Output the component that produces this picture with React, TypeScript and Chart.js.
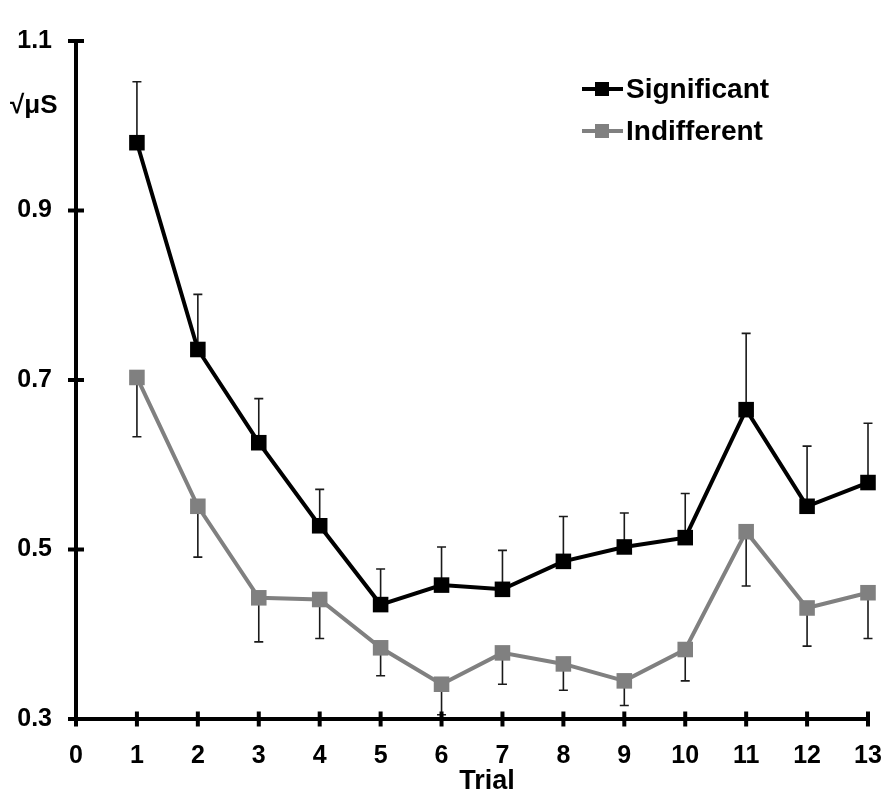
import { useEffect, useRef } from 'react'
import { Chart, registerables } from 'chart.js'

Chart.register(...registerables)

const trials = [1, 2, 3, 4, 5, 6, 7, 8, 9, 10, 11, 12, 13]
const significant = [0.98, 0.736, 0.626, 0.528, 0.435, 0.458, 0.453, 0.486, 0.503, 0.514, 0.665, 0.551, 0.579]
const significantErrTop = [1.052, 0.801, 0.678, 0.571, 0.477, 0.503, 0.499, 0.539, 0.543, 0.566, 0.755, 0.622, 0.649]
const indifferent = [0.703, 0.551, 0.443, 0.441, 0.384, 0.341, 0.378, 0.365, 0.345, 0.382, 0.521, 0.431, 0.449]
const indifferentErrBottom = [0.633, 0.491, 0.391, 0.395, 0.351, 0.305, 0.341, 0.334, 0.316, 0.345, 0.457, 0.386, 0.395]
const yTicks = [0.3, 0.5, 0.7, 0.9, 1.1]
const xTicks = [0, 1, 2, 3, 4, 5, 6, 7, 8, 9, 10, 11, 12, 13]

const FONT = '"Liberation Sans", Arial, sans-serif'
const GREY = '#808080'

const errorBars = {
  id: 'errorBars',
  beforeDatasetsDraw(chart: any) {
    const { ctx, scales } = chart
    const x = scales.x
    const y = scales.y
    const sets = [
      { vals: significant, ends: significantErrTop },
      { vals: indifferent, ends: indifferentErrBottom },
    ]
    ctx.save()
    ctx.strokeStyle = '#1a1a1a'
    ctx.lineWidth = 1.6
    sets.forEach(s => {
      trials.forEach((t, i) => {
        const px = x.getPixelForValue(t)
        const p0 = y.getPixelForValue(s.vals[i])
        const p1 = y.getPixelForValue(s.ends[i])
        ctx.beginPath()
        ctx.moveTo(px, p0)
        ctx.lineTo(px, p1)
        ctx.moveTo(px - 4.5, p1)
        ctx.lineTo(px + 4.5, p1)
        ctx.stroke()
      })
    })
    ctx.restore()
  },
}

const axisDecor = {
  id: 'axisDecor',
  afterDraw(chart: any) {
    const { ctx, scales, chartArea } = chart
    const x = scales.x
    const y = scales.y
    ctx.save()
    ctx.strokeStyle = '#000'
    ctx.lineWidth = 4
    // crossing tick marks
    yTicks.forEach(v => {
      const py = y.getPixelForValue(v)
      ctx.beginPath()
      ctx.moveTo(chartArea.left - 8, py)
      ctx.lineTo(chartArea.left + 8, py)
      ctx.stroke()
    })
    xTicks.forEach(v => {
      const px = x.getPixelForValue(v)
      ctx.beginPath()
      ctx.moveTo(px, chartArea.bottom - 7.5)
      ctx.lineTo(px, chartArea.bottom + 7.5)
      ctx.stroke()
    })

    ctx.fillStyle = '#000'
    ctx.textBaseline = 'middle'

    // y unit label
    ctx.font = `bold 26px ${FONT}`
    ctx.textAlign = 'left'
    ctx.fillText('√μS', 10, 106)

    // x axis title
    ctx.font = `bold 27px ${FONT}`
    ctx.textAlign = 'center'
    ctx.fillText('Trial', 487, 782)

    // legend
    const items = [
      { label: 'Significant', color: '#000', y: 89 },
      { label: 'Indifferent', color: GREY, y: 131 },
    ]
    ctx.font = `bold 28px ${FONT}`
    ctx.textAlign = 'left'
    items.forEach(it => {
      ctx.strokeStyle = it.color
      ctx.fillStyle = it.color
      ctx.lineWidth = 4
      ctx.beginPath()
      ctx.moveTo(582, it.y)
      ctx.lineTo(623, it.y)
      ctx.stroke()
      ctx.fillRect(595, it.y - 7, 14, 14)
      ctx.fillStyle = '#000'
      ctx.fillText(it.label, 626, it.y + 1)
    })
    ctx.restore()
  },
}

export default function App() {
  const chartRef = useRef<HTMLCanvasElement>(null)
  const chartInstance = useRef<Chart | null>(null)

  useEffect(() => {
    document.body.style.margin = '0'
    if (!chartRef.current) return
    if (chartInstance.current) chartInstance.current.destroy()
    const ctx = chartRef.current.getContext('2d')
    if (!ctx) return

    chartInstance.current = new Chart(ctx, {
      type: 'line',
      data: {
        datasets: [
          {
            label: 'Significant',
            data: trials.map((t, i) => ({ x: t, y: significant[i] })),
            borderColor: '#000',
            backgroundColor: '#000',
            borderWidth: 4,
            pointStyle: 'rect',
            pointRadius: 11,
            pointBorderWidth: 0,
            tension: 0,
            clip: false as any,
          },
          {
            label: 'Indifferent',
            data: trials.map((t, i) => ({ x: t, y: indifferent[i] })),
            borderColor: GREY,
            backgroundColor: GREY,
            borderWidth: 4,
            pointStyle: 'rect',
            pointRadius: 11,
            pointBorderWidth: 0,
            tension: 0,
            clip: false as any,
          },
        ],
      },
      options: {
        animation: false,
        responsive: true,
        maintainAspectRatio: false,
        layout: { padding: { top: 41, right: 24, left: 0, bottom: 0 } },
        plugins: {
          legend: { display: false },
          tooltip: { enabled: false },
        },
        scales: {
          x: {
            type: 'linear',
            min: 0,
            max: 13,
            afterFit: (s: any) => {
              s.height = 84
              s.paddingRight = 0
              s.paddingLeft = 0
            },
            afterBuildTicks: (s: any) => { s.ticks = xTicks.map(v => ({ value: v })) },
            grid: { display: false, drawTicks: false },
            border: { display: true, color: '#000', width: 4 },
            ticks: {
              color: '#000',
              padding: 22,
              font: { family: FONT, size: 25, weight: 'bold' },
            },
          },
          y: {
            type: 'linear',
            min: 0.3,
            max: 1.1,
            afterFit: (s: any) => {
              s.width = 76
              s.paddingTop = 0
              s.paddingBottom = 0
            },
            afterBuildTicks: (s: any) => { s.ticks = yTicks.map(v => ({ value: v })) },
            grid: { display: false, drawTicks: false },
            border: { display: true, color: '#000', width: 4 },
            ticks: {
              color: '#000',
              padding: 24,
              font: { family: FONT, size: 25, weight: 'bold' },
              callback: (v: any) => Number(v).toFixed(1),
            },
          },
        },
      },
      plugins: [errorBars, axisDecor],
    })

    return () => {
      if (chartInstance.current) {
        chartInstance.current.destroy()
        chartInstance.current = null
      }
    }
  }, [])

  return (
    <div style={{ width: 892, height: 803, position: 'relative', background: '#fff' }}>
      <canvas ref={chartRef} />
    </div>
  )
}
